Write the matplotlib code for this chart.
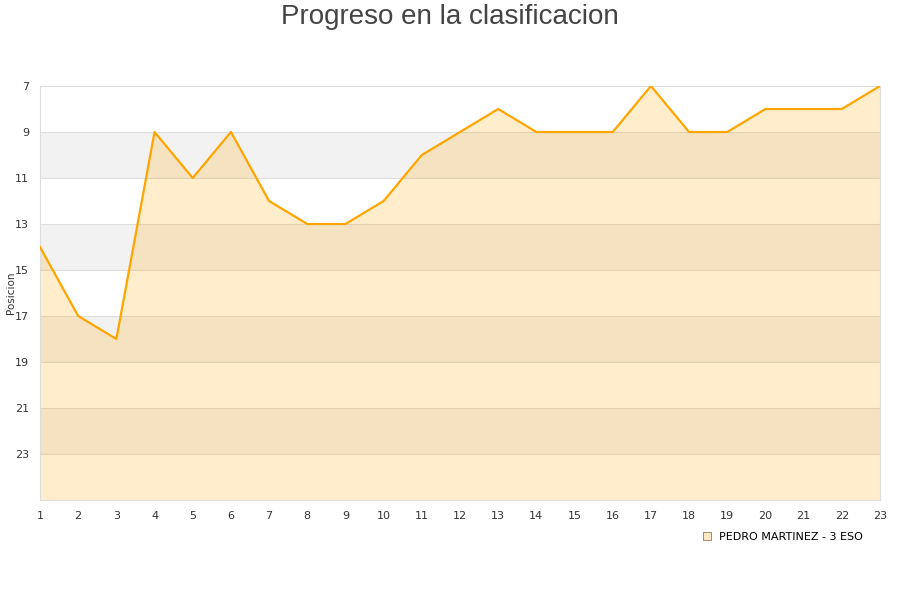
import numpy as np
import matplotlib.pyplot as plt
from matplotlib.lines import Line2D

# jornadas y posicion en la clasificacion
rounds = list(range(1, 24))
positions = [14, 17, 18, 9, 11, 9, 12, 13, 13, 12, 10, 9, 8, 9, 9, 9, 7, 9, 9, 8, 8, 8, 7]
y_ticks = [7, 9, 11, 13, 15, 17, 19, 21, 23]
series_name = 'PEDRO MARTINEZ - 3 ESO'

fig = plt.figure(figsize=(9, 6), dpi=100)
ax = fig.add_axes([40 / 900, 100 / 600, 840 / 900, 414 / 600])

y_min, y_max = 7, 25

# alternating grey bands
for lo in range(9, 25, 4):
    ax.axhspan(lo, lo + 2, color='#f2f2f2', zorder=0, lw=0)
for t in y_ticks[1:] + [y_max]:
    ax.axhline(t, color='#dddddd', lw=0.8, zorder=1)

ax.fill_between(rounds, positions, y_max, color='orange', alpha=0.2, lw=0, zorder=2)
ax.plot(rounds, positions, color='#ffa500', lw=1.6, zorder=3)

ax.set_xlim(1, 23)
ax.set_ylim(y_max, y_min)
ax.set_xticks(rounds)
ax.set_yticks(y_ticks)
ax.tick_params(length=0, labelsize=8, colors='#333333', pad=8)
for s in ax.spines.values():
    s.set_color('#dddddd')
    s.set_linewidth(0.8)
fig.text(11 / 900, 1 - 293 / 600, 'Posicion', rotation=90, ha='center', va='center',
         fontsize=7.5, color='#333333')

fig.text(0.5, 0.993, 'Progreso en la clasificacion', ha='center', va='top',
         fontsize=20, color='#444444', family='Liberation Sans')

handle = Line2D([], [], marker='s', ls='none', markersize=6,
                markerfacecolor='#ffe9c4', markeredgecolor='#8a7a60', markeredgewidth=0.6)
fig.legend([handle], [series_name], loc='center', bbox_to_anchor=(782 / 900, 1 - 537 / 600),
           frameon=False, fontsize=8, handletextpad=0.6, handlelength=1)

fig.savefig('out.png', dpi=100)
